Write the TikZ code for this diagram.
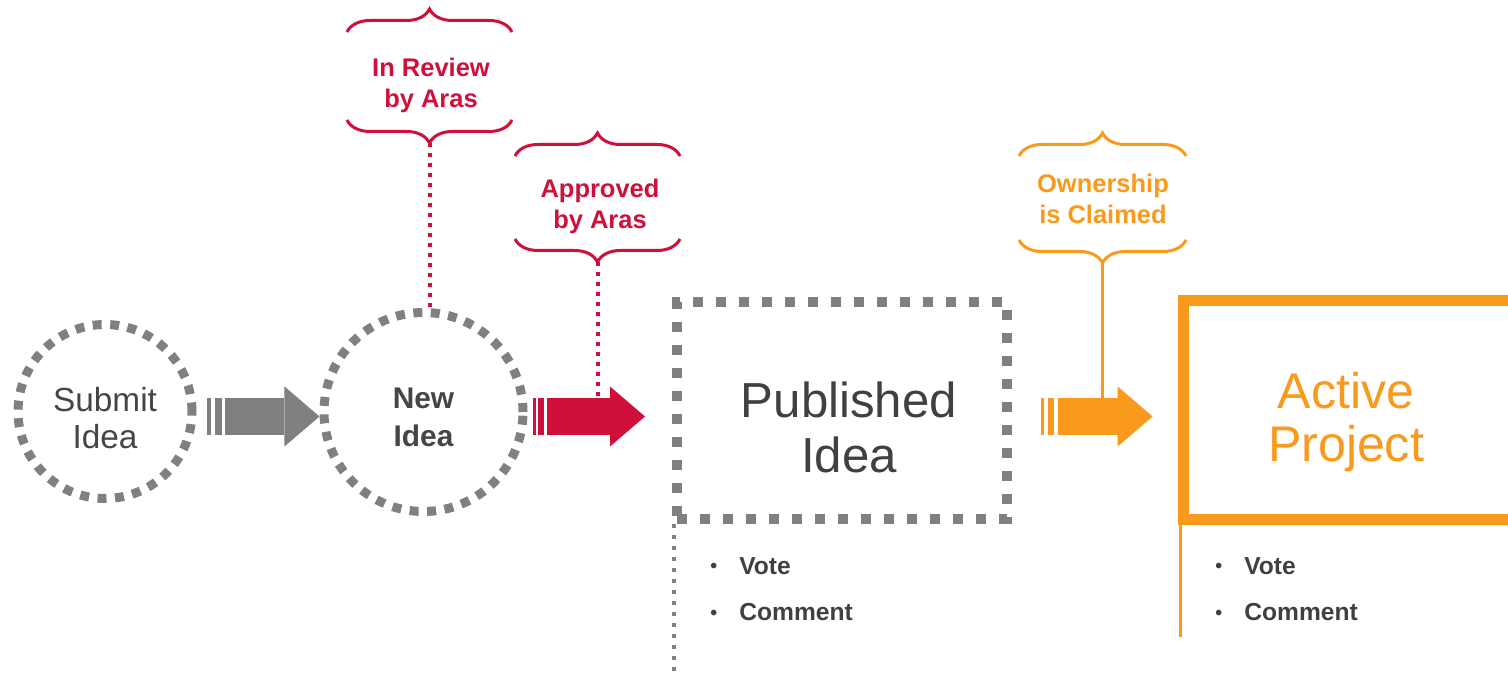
\documentclass[tikz,border=0pt]{standalone}
\usepackage{fontspec}
\setmainfont{Liberation Sans}
\usepackage{tikz}
\usetikzlibrary{arrows.meta, decorations.pathreplacing, calc, positioning}

\definecolor{dotgray}{HTML}{808080}
\definecolor{circtxt}{HTML}{454545}
\definecolor{txtgray}{HTML}{404040}
\definecolor{arasred}{HTML}{D0103A}
\definecolor{arasorange}{HTML}{F99A1C}

\newcommand{\itembul}{\makebox[5.8mm][l]{\raisebox{0.3mm}{\scalebox{0.8}{\textbullet}}}}

\begin{document}
\begin{tikzpicture}[x=0.2mm, y=-0.2mm,
  dotcirc/.style={circle, draw=dotgray, line width=1.8mm, dash pattern=on 1.8mm off 1.7mm,
                  inner sep=0pt, align=center, text=circtxt},
  dotbox/.style={rectangle, draw=dotgray, line width=2mm, dash pattern=on 2mm off 2.6mm,
                 minimum width=66mm, minimum height=43.4mm, align=center, text=txtgray,
                 font=\fontsize{28}{31.7}\selectfont, text height=24.9mm, text depth=0mm},
  actbox/.style={rectangle, minimum width=64.8mm, minimum height=43.6mm, align=center,
                 text=arasorange, font=\fontsize{28.5}{30.6}\selectfont,
                 text height=20.8mm, text depth=0mm},
  brctxt/.style={align=center, font=\bfseries\fontsize{14.5}{17.6}\selectfont},
  brc/.style={decorate, decoration={brace, amplitude=4.6mm}, line width=0.6mm},
  items/.style={anchor=north west, inner sep=0pt, align=left, text=txtgray,
                font=\bfseries\fontsize{14}{26.5}\selectfont},
  fat/.style={line width=7.4mm, -{Triangle[length=7mm, width=12mm, line width=0pt]}},
  reddots/.style={arasred, line width=0.8mm, dash pattern=on 0.8mm off 1.2mm},
  smalldots/.style={dotgray, line width=0.8mm, dash pattern=on 0.8mm off 1.4mm},
]
\useasboundingbox (0,0) rectangle (1508,674);

% States
\node[dotcirc, minimum size=34.8mm, font=\fontsize{19}{20.8}\selectfont,
      text height=14.7mm, text depth=0mm] (submit) at (105,411.5) {Submit\\Idea};
\node[dotcirc, minimum size=39.8mm, font=\bfseries\fontsize{17}{21.8}\selectfont,
      text height=13.9mm, text depth=0mm] (new) at (423.5,412) {New\\Idea};
\node[dotbox] (pub) at (842,410.5) {\hspace*{2.8mm}Published\\\hspace*{2.8mm}Idea};
\node[actbox] (act) at (1346,410) {Active\\Project};
\draw[arasorange, line width=2.2mm] (act.north east) -| (act.south west) -- (act.south east);
\draw[arasorange, line width=0.6mm] ([xshift=-0.6mm]act.south west) -- ++(0,118);
\draw[smalldots] ([xshift=0.4mm]pub.south west) -- ++(0,152);

% Actions
\node[items] (pubitems) at (710,557) {\itembul Vote\\\itembul Comment};
\node[items] (actitems) at (1215,557) {\itembul Vote\\\itembul Comment};

% Braces
\draw[brc, arasred] (347,32) -- (512,32);
\node[brctxt, text=arasred] (rev) at (431,85) {In Review\\by Aras};
\draw[brc, arasred] (512,120) -- (347,120);
\coordinate (revtip) at (429.5,143);

\draw[brc, arasred] (515,156) -- (680,156);
\node[brctxt, text=arasred] (appr) at (600,206) {Approved\\by Aras};
\draw[brc, arasred] (680,239) -- (515,239);
\coordinate (apptip) at (597.5,262);

\draw[brc, arasorange] (1019,156) -- (1186,156);
\node[brctxt, text=arasorange] (own) at (1103,199) {Ownership\\is Claimed};
\draw[brc, arasorange] (1186,240) -- (1019,240);
\coordinate (owntip) at (1102.5,263);

% Arrows
\coordinate (g1) at ([shift={(28.5,5)}]submit.east);
\coordinate (r1) at ([shift={(19.5,4.5)}]new.east);
\coordinate (o1) at ([shift={(46,6)}]pub.east);

\draw[reddots] (revtip) -- (revtip |- new.north);
\draw[reddots] (apptip) -- (apptip |- r1);
\draw[arasorange, line width=0.6mm] (owntip) -- (owntip |- o1);

\draw[fat, dotgray] (g1) -- (g1 -| new.west);
\fill[dotgray] ([shift={(-18,-18.5)}]g1) rectangle ++(4,37);
\fill[dotgray] ([shift={(-10,-18.5)}]g1) rectangle ++(7,37);

\draw[fat, arasred, shorten >=5.4mm] (r1) -- (r1 -| pub.west);
\fill[arasred] ([shift={(-14,-18.5)}]r1) rectangle ++(3,37);
\fill[arasred] ([shift={(-9,-18.5)}]r1) rectangle ++(6,37);

\draw[fat, arasorange, shorten >=6.2mm] (o1) -- (o1 -| act.west);
\fill[arasorange] ([shift={(-17,-18.5)}]o1) rectangle ++(3,37);
\fill[arasorange] ([shift={(-10,-18.5)}]o1) rectangle ++(6,37);
\end{tikzpicture}
\end{document}
